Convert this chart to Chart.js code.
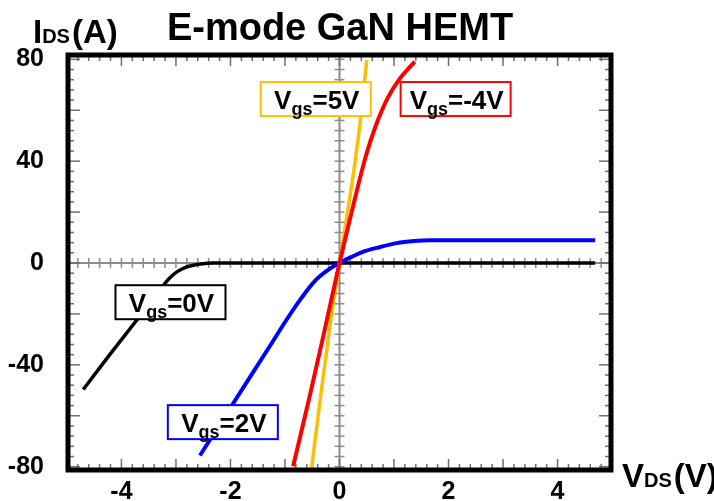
<!DOCTYPE html>
<html>
<head>
<meta charset="utf-8">
<title>E-mode GaN HEMT</title>
<script src="https://cdn.jsdelivr.net/npm/chart.js"></script>
<style>
  html, body { margin: 0; padding: 0; background: #fff; }
  #wrap { width: 714px; height: 501px; }
</style>
</head>
<body>
<div id="wrap"><canvas id="myChart"></canvas></div>
<script>
// Curvas Id-Vds (V, A)
const vdsGs0 = [-4.70, -4.20, -3.71, -3.32, -3.12, -2.97, -2.80, -2.55, -2.31, 4.69];
const idsGs0 = [-49.7, -35.6, -22.2, -11.3, -6.0, -3.3, -1.5, -0.4, 0, 0];

const vdsGs2 = [-2.56, -1.91, -1.30, -0.95, -0.70, -0.45, -0.19, 0, 0.21, 0.43, 0.75, 1.05, 1.37, 1.67, 4.69];
const idsGs2 = [-75.6, -53.8, -33.4, -21.6, -13.8, -7.0, -2.4, 0, 2.3, 4.4, 6.3, 7.8, 8.6, 8.9, 8.9];

const vdsGs5 = [-0.51, -0.35, -0.18, 0, 0.12, 0.27, 0.38, 0.50];
const idsGs5 = [-80.4, -53.0, -25.5, 0, 16.3, 37.3, 55.5, 79.7];

const vdsGsM4 = [-0.85, -0.55, -0.30, 0, 0.18, 0.33, 0.49, 0.67, 0.88, 1.09, 1.38];
const idsGsM4 = [-79.8, -52.6, -29.0, 0, 16.3, 29.4, 42.5, 54.2, 64.7, 71.9, 79.1];

// Etiquetas de ejes
const xTicks = [-4, -2, 0, 2, 4];
const yTicks = [-80, -40, 0, 40, 80];

// Cuadros de texto: posicion en unidades de datos
const tagValues = ['=0V', '=2V', '=5V', '=-4V'];
const tagX = [-3.10, -2.14, -0.435, 2.13];
const tagY = [-15.4, -62.5, 64.4, 64.4];
const tagColors = ['#000000', '#0000ff', '#ffbf00', '#ff0000'];

const FONT = '"Liberation Sans", Arial, Helvetica, sans-serif';

function puntos(xs, ys) {
    return xs.map((v, i) => ({ x: v, y: ys[i] }));
}

function linea(ctx, x1, y1, x2, y2) {
    ctx.beginPath();
    ctx.moveTo(x1, y1);
    ctx.lineTo(x2, y2);
    ctx.stroke();
}

// Texto con subindice: partes = [[texto, tamaño, desplazamiento, espacio], ...]
function textoCompuesto(ctx, partes, x, y, centrado) {
    let total = 0;
    partes.forEach(p => {
        ctx.font = 'bold ' + p[1] + 'px ' + FONT;
        total += ctx.measureText(p[0]).width + (p[3] || 0);
    });
    let px = centrado ? x - total / 2 : x;
    ctx.textAlign = 'left';
    ctx.textBaseline = 'alphabetic';
    partes.forEach(p => {
        ctx.font = 'bold ' + p[1] + 'px ' + FONT;
        ctx.fillText(p[0], px, y + p[2]);
        px += ctx.measureText(p[0]).width + (p[3] || 0);
    });
}

const marcoPlugin = {
    id: 'marco',
    beforeDatasetsDraw(chart) {
        const ctx = chart.ctx;
        const a = chart.chartArea;
        const sx = chart.scales.x;
        const sy = chart.scales.y;
        const x0 = sx.getPixelForValue(0);
        const y0 = sy.getPixelForValue(0);
        ctx.save();
        // ejes centrales
        ctx.strokeStyle = '#8c8c8c';
        ctx.lineWidth = 2;
        linea(ctx, a.left, y0, a.right, y0);
        linea(ctx, x0, a.top, x0, a.bottom);
        ctx.lineWidth = 1.5;
        for (let i = -24; i <= 24; i++) {
            const px = sx.getPixelForValue(i * 0.2);
            linea(ctx, px, y0 - 5, px, y0 + 5);
        }
        for (let i = -20; i <= 20; i++) {
            const py = sy.getPixelForValue(i * 4);
            linea(ctx, x0 - 5, py, x0 + 5, py);
        }
        // marcas del marco hacia adentro
        ctx.strokeStyle = '#6e6e6e';
        for (let i = -24; i <= 24; i++) {
            const px = sx.getPixelForValue(i * 0.2);
            const l = (i % 5 === 0) ? 11 : 6;
            linea(ctx, px, a.top, px, a.top + l);
            linea(ctx, px, a.bottom, px, a.bottom - l);
        }
        for (let i = -20; i <= 20; i++) {
            const py = sy.getPixelForValue(i * 4);
            const l = (i % 5 === 0) ? 12 : 6;
            linea(ctx, a.left, py, a.left + l, py);
            linea(ctx, a.right, py, a.right - l, py);
        }
        ctx.restore();
    },
    afterDatasetsDraw(chart) {
        const ctx = chart.ctx;
        const sx = chart.scales.x;
        const sy = chart.scales.y;
        ctx.save();
        tagValues.forEach((t, i) => {
            const cx = sx.getPixelForValue(tagX[i]);
            const cy = sy.getPixelForValue(tagY[i]);
            ctx.fillStyle = '#fff';
            ctx.fillRect(cx - 55, cy - 17, 110, 34);
            ctx.strokeStyle = tagColors[i];
            ctx.lineWidth = 2;
            ctx.strokeRect(cx - 55, cy - 17, 110, 34);
            ctx.fillStyle = '#000';
            textoCompuesto(ctx, [['V', 26, 0], ['gs', 18, 6], [t, 26, 0]], cx + 1, cy + 10, true);
        });
        ctx.restore();
    },
    afterDraw(chart) {
        const ctx = chart.ctx;
        const a = chart.chartArea;
        ctx.save();
        ctx.strokeStyle = '#000';
        ctx.lineWidth = 5;
        ctx.strokeRect(a.left, a.top, a.right - a.left, a.bottom - a.top);
        ctx.fillStyle = '#000';
        ctx.font = 'bold 38px ' + FONT;
        ctx.textAlign = 'center';
        ctx.textBaseline = 'alphabetic';
        ctx.fillText('E-mode GaN HEMT', 340, 40);
        textoCompuesto(ctx, [['I', 33, 0], ['DS', 20, 0, 2], ['(A)', 33, 0]], 33, 43, false);
        textoCompuesto(ctx, [['V', 33, 0], ['DS', 20, 0, 2], ['(V)', 33, 0]], 622, 487, false);
        ctx.restore();
    }
};

const ctx = document.getElementById('myChart').getContext('2d');
const myChart = new Chart(ctx, {
    type: 'scatter',
    data: {
        datasets: [
            { label: 'Vgs=0V', data: puntos(vdsGs0, idsGs0), borderColor: '#000000', borderWidth: 3.5, order: 3 },
            { label: 'Vgs=2V', data: puntos(vdsGs2, idsGs2), borderColor: '#0000ff', borderWidth: 4, order: 2 },
            { label: 'Vgs=5V', data: puntos(vdsGs5, idsGs5), borderColor: '#ffbf00', borderWidth: 3.5, order: 1 },
            { label: 'Vgs=-4V', data: puntos(vdsGsM4, idsGsM4), borderColor: '#ff0000', borderWidth: 4, order: 0 }
        ].map(d => Object.assign(d, { showLine: true, pointRadius: 0, cubicInterpolationMode: 'monotone', fill: false }))
    },
    options: {
        responsive: true,
        maintainAspectRatio: false,
        animation: false,
        events: [],
        layout: { padding: { top: 55, right: 103, left: 0, bottom: 0 } },
        plugins: { legend: { display: false }, tooltip: { enabled: false } },
        scales: {
            x: {
                type: 'linear',
                min: -4.98,
                max: 4.98,
                afterBuildTicks: s => { s.ticks = xTicks.map(v => ({ value: v })); },
                afterFit: s => { s.height = 31; s.paddingLeft = 0; s.paddingRight = 0; },
                grid: { display: false, drawTicks: false },
                border: { display: false },
                ticks: { color: '#000', padding: 7, maxRotation: 0, autoSkip: false, font: { family: FONT, size: 25, weight: 'bold' } }
            },
            y: {
                type: 'linear',
                min: -81.3,
                max: 81.7,
                afterBuildTicks: s => { s.ticks = yTicks.map(v => ({ value: v })); },
                afterFit: s => { s.width = 68; s.paddingTop = 0; s.paddingBottom = 0; },
                grid: { display: false, drawTicks: false },
                border: { display: false },
                ticks: { color: '#000', padding: 24, autoSkip: false, font: { family: FONT, size: 25, weight: 'bold' } }
            }
        }
    },
    plugins: [marcoPlugin]
});
</script>
</body>
</html>
